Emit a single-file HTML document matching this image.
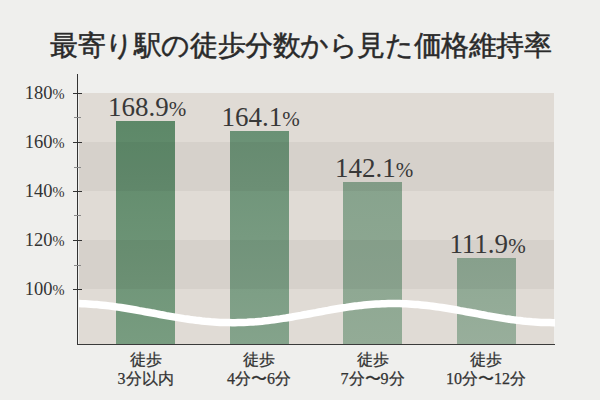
<!DOCTYPE html>
<html><head><meta charset="utf-8">
<style>
html,body{margin:0;padding:0;}
body{width:600px;height:400px;background:#efefed;position:relative;overflow:hidden;font-family:"Liberation Serif",serif;color:#333;}
.a{position:absolute;}
.title{left:50px;top:27px;font-size:28px;font-weight:normal;color:#2a2a2a;-webkit-text-stroke:0.5px #2a2a2a;white-space:nowrap;letter-spacing:-0.41px;}
.band{position:absolute;left:79px;width:475px;}
.l{background:#e0dbd5;}
.d{background:#d7d3cd;}
.bar{position:absolute;width:59px;}
.val{position:absolute;font-size:27px;white-space:nowrap;color:#383838;line-height:1;width:120px;text-align:center;}
.val small{font-size:21px;}
.yl{position:absolute;font-size:18.5px;white-space:nowrap;color:#333;line-height:1;text-align:right;width:60px;left:4.5px;}
.yl small{font-size:14.5px;}
.tick{position:absolute;left:73px;width:9px;height:1.5px;background:#333;}
.mtick{position:absolute;left:74px;width:7px;height:1px;background:#8a8a8a;}
.xl span{display:inline-block;}
.xl{position:absolute;font-size:16px;text-align:center;width:120px;line-height:19px;color:#333;-webkit-text-stroke:0.25px #333;}
</style></head><body>
<div class="a title">最寄り駅の徒歩分数から見た価格維持率</div>

<div class="band l" style="top:93px;height:49px"></div>
<div class="band l" style="top:142px;height:49px"></div>
<div class="band l" style="top:191px;height:49px"></div>
<div class="band l" style="top:240px;height:49px"></div>
<div class="band l" style="top:289px;height:55px"></div>

<div class="bar" style="left:116px;top:121px;height:223px;background:linear-gradient(#5d8868,#789c80);"></div>
<div class="bar" style="left:230px;top:131px;height:213px;background:linear-gradient(#6a9175,#84a38b);"></div>
<div class="bar" style="left:343px;top:182px;height:162px;background:linear-gradient(#87a38d,#93ab96);"></div>
<div class="bar" style="left:457px;top:258px;height:86px;background:linear-gradient(#8ea893,#98ae9b);"></div>
<div class="band" style="top:142px;height:49px;background:rgba(0,0,0,0.045)"></div>
<div class="band" style="top:240px;height:49px;background:rgba(0,0,0,0.045)"></div>

<svg class="a" style="left:0;top:0" width="600" height="400">
<path id="wave" d="M79 303.6 L82 303.7 L85 303.8 L88 304.0 L91 304.2 L94 304.4 L97 304.6 L100 304.9 L103 305.2 L106 305.5 L109 305.9 L112 306.3 L115 306.7 L118 307.1 L121 307.5 L124 308.0 L127 308.5 L130 309.0 L133 309.5 L136 310.0 L139 310.6 L142 311.1 L145 311.7 L148 312.2 L151 312.8 L154 313.3 L157 313.9 L160 314.5 L163 315.0 L166 315.6 L169 316.1 L172 316.6 L175 317.1 L178 317.6 L181 318.1 L184 318.6 L187 319.0 L190 319.5 L193 319.9 L196 320.3 L199 320.6 L202 321.0 L205 321.3 L208 321.5 L211 321.8 L214 322.0 L217 322.2 L220 322.4 L223 322.5 L226 322.6 L229 322.6 L232 322.7 L235 322.7 L238 322.6 L241 322.5 L244 322.4 L247 322.3 L250 322.1 L253 321.9 L256 321.7 L259 321.4 L262 321.2 L265 320.8 L268 320.5 L271 320.1 L274 319.7 L277 319.3 L280 318.9 L283 318.4 L286 318.0 L289 317.5 L292 317.0 L295 316.4 L298 315.9 L301 315.4 L304 314.8 L307 314.3 L310 313.7 L313 313.1 L316 312.6 L319 312.0 L322 311.5 L325 310.9 L328 310.4 L331 309.8 L334 309.3 L337 308.8 L340 308.3 L343 307.8 L346 307.4 L349 306.9 L352 306.5 L355 306.1 L358 305.8 L361 305.4 L364 305.1 L367 304.8 L370 304.5 L373 304.3 L376 304.1 L379 303.9 L382 303.8 L385 303.7 L388 303.6 L391 303.6 L394 303.5 L397 303.6 L400 303.6 L403 303.7 L406 303.8 L409 304.0 L412 304.2 L415 304.4 L418 304.6 L421 304.9 L424 305.2 L427 305.5 L430 305.9 L433 306.3 L436 306.7 L439 307.1 L442 307.5 L445 308.0 L448 308.5 L451 309.0 L454 309.5 L457 310.0 L460 310.6 L463 311.1 L466 311.7 L469 312.2 L472 312.8 L475 313.3 L478 313.9 L481 314.5 L484 315.0 L487 315.6 L490 316.1 L493 316.6 L496 317.1 L499 317.6 L502 318.1 L505 318.6 L508 319.0 L511 319.5 L514 319.9 L517 320.3 L520 320.6 L523 321.0 L526 321.3 L529 321.5 L532 321.8 L535 322.0 L538 322.2 L541 322.4 L544 322.5 L547 322.6 L550 322.6 L553 322.7 L555 322.7" fill="none" stroke="#fff" stroke-width="7.5"/>
</svg>

<div class="a" style="left:77px;top:74px;width:1.3px;height:271px;background:#333"></div>
<div class="a" style="left:77px;top:343.7px;width:478px;height:1.5px;background:#3a3a3a"></div>
<div class="tick" style="top:92.5px"></div>
<div class="tick" style="top:141.5px"></div>
<div class="tick" style="top:190.5px"></div>
<div class="tick" style="top:239.8px"></div>
<div class="tick" style="top:288.5px"></div>
<div class="mtick" style="top:117.2px"></div>
<div class="mtick" style="top:166.6px"></div>
<div class="mtick" style="top:215.3px"></div>
<div class="mtick" style="top:264.8px"></div>

<div class="yl" style="top:84px">180<small>%</small></div>
<div class="yl" style="top:133px">160<small>%</small></div>
<div class="yl" style="top:182px">140<small>%</small></div>
<div class="yl" style="top:231px">120<small>%</small></div>
<div class="yl" style="top:280px">100<small>%</small></div>

<div class="val" style="left:87px;top:94px">168.9<small>%</small></div>
<div class="val" style="left:200.5px;top:104px">164.1<small>%</small></div>
<div class="val" style="left:314px;top:155px">142.1<small>%</small></div>
<div class="val" style="left:427.5px;top:231px">111.9<small>%</small></div>

<div class="xl" style="left:85.5px;top:350px">徒歩<br><span>3</span>分以内</div>
<div class="xl" style="left:199px;top:350px">徒歩<br><span>4</span>分〜<span>6</span>分</div>
<div class="xl" style="left:312.5px;top:350px">徒歩<br><span>7</span>分〜<span>9</span>分</div>
<div class="xl" style="left:426px;top:350px">徒歩<br><span>10</span>分〜<span>12</span>分</div>
</body></html>
